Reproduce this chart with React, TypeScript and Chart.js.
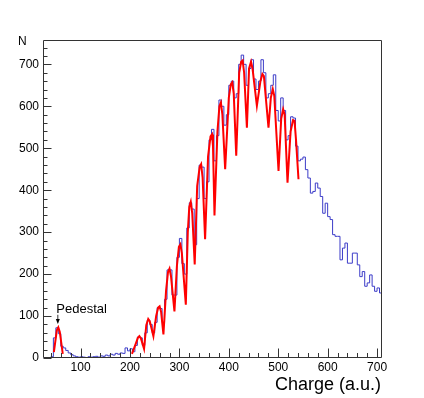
import React, { useEffect, useRef } from "react";
import { Chart, registerables } from "chart.js";

Chart.register(...registerables);

// Histogram: bins of width 5 starting at 25
const BIN_START = 25;
const BIN_WIDTH = 5;
const histCounts = [
  0, 0, 0, 3, 48, 72, 58, 28, 24, 18,
  12, 8, 5, 3, 2, 3, 2, 1, 3, 2,
  3, 4, 2, 5, 4, 7, 5, 9, 7, 11,
  9, 12, 11, 24, 17,
  22, 15, 30, 50, 48, 30, 60, 90, 80, 60,
  85, 120, 118, 85, 140, 210, 210, 150, 150, 240,
  285, 225, 200, 310, 370, 355, 270, 380, 460, 455,
  380, 420, 520, 545, 470, 530, 615, 600, 555, 580,
  650, 660, 620, 630, 700, 722, 700, 650, 690, 711,
  665, 640, 660, 711, 680, 620, 630, 650, 675, 590,
  565, 620, 590, 520, 530, 575, 572, 505, 470,
  474, 479, 449, 429, 393, 397, 417, 405, 385, 345,
  369, 337, 330, 294, 290, 290, 234, 262, 274, 226,
  226, 250, 250, 222, 194, 206, 171, 179, 198, 171,
  159, 167, 155,
];

// Pedestal fit
const pedX = [46, 49, 52, 55, 58, 61, 64];
const pedY = [14, 40, 66, 73, 62, 36, 10];

// Multi-peak fit
const fitX = [
  204, 212, 216, 219, 222, 228.5,
  233, 237, 240, 247.4,
  253, 257, 260, 263, 267.7,
  273, 277, 280, 283, 290,
  295, 299, 302, 305, 313,
  317, 320, 323, 326, 331,
  336, 341, 344, 347, 352,
  358, 363, 366, 368, 371,
  377, 381, 384, 387, 392.6,
  400, 404, 407, 410, 415,
  421, 425, 428, 431, 436.6,
  441, 445, 448, 456.8,
  464, 468, 471, 480.3,
  485, 489, 492, 500.6,
  506, 510, 513, 518.8,
  525, 530, 533, 536, 541,
];
const fitY = [
  10, 35, 48, 52, 47, 22,
  78, 93, 88, 52,
  100, 120, 123, 110, 56,
  160, 205, 213, 195, 111,
  220, 265, 271, 250, 127,
  300, 360, 372, 345, 223,
  410, 455, 462, 430, 283,
  480, 528, 533, 505, 340,
  540, 600, 609, 580, 450,
  620, 652, 657, 630, 482,
  680, 706, 709, 680, 549,
  690, 706, 690, 601,
  660, 677, 672, 549,
  620, 641, 625, 446,
  570, 593, 580, 418,
  540, 567, 565, 520, 426,
];

const X_MIN = 24;
const X_MAX = 710;
const Y_MIN = 0;
const Y_MAX = 758;
const xTickValues = [100, 200, 300, 400, 500, 600, 700];
const yTickValues = [0, 100, 200, 300, 400, 500, 600, 700];

const FONT = "'Liberation Sans', Arial, Helvetica, sans-serif";

const rootStylePlugin = {
  id: "rootStyle",
  afterDraw(chart: any) {
    const { ctx, chartArea } = chart;
    const xs = chart.scales.x;
    const ys = chart.scales.y;
    const L = Math.round(chartArea.left) + 0.5;
    const R = Math.round(chartArea.right) - 0.5;
    const T = Math.round(chartArea.top) + 0.5;
    const B = Math.round(chartArea.bottom) - 0.5;
    ctx.save();
    ctx.strokeStyle = "#333";
    ctx.lineWidth = 1;
    ctx.beginPath();
    ctx.rect(L, T, R - L, B - T);
    ctx.stroke();

    // x ticks (inside, pointing up)
    ctx.beginPath();
    for (let v = 40; v <= X_MAX; v += 20) {
      const px = Math.round(xs.getPixelForValue(v)) + 0.5;
      const len = v % 100 === 0 ? 9 : 4.5;
      ctx.moveTo(px, B);
      ctx.lineTo(px, B - len);
    }
    // y ticks (inside, pointing right)
    for (let v = 0; v <= Y_MAX; v += 20) {
      const py = Math.round(ys.getPixelForValue(v)) + 0.5;
      const len = v % 100 === 0 ? 8 : 4;
      ctx.moveTo(L, py);
      ctx.lineTo(L + len, py);
    }
    ctx.stroke();

    // Texts
    ctx.fillStyle = "#000";
    ctx.textBaseline = "alphabetic";
    ctx.font = `12px ${FONT}`;
    ctx.textAlign = "left";
    ctx.fillText("N", 18, 45);

    ctx.font = `18px ${FONT}`;
    ctx.textAlign = "right";
    ctx.fillText("Charge (a.u.)", 381, 390);

    // Pedestal annotation
    const ax = xs.getPixelForValue(54);
    ctx.font = `13px ${FONT}`;
    ctx.textAlign = "left";
    ctx.fillText("Pedestal", ax - 1.5, 312.5);
    const yStart = ys.getPixelForValue(103);
    const yTip = ys.getPixelForValue(81);
    ctx.beginPath();
    ctx.moveTo(ax, yStart);
    ctx.lineTo(ax, yTip - 4);
    ctx.stroke();
    ctx.beginPath();
    ctx.moveTo(ax - 2, yTip - 5);
    ctx.lineTo(ax + 2, yTip - 5);
    ctx.lineTo(ax, yTip);
    ctx.closePath();
    ctx.fill();
    ctx.restore();
  },
};

export default function App() {
  const canvasRef = useRef<HTMLCanvasElement | null>(null);

  useEffect(() => {
    const canvas = canvasRef.current;
    if (!canvas) return;

    const histData = histCounts.map((c, i) => ({ x: BIN_START + i * BIN_WIDTH, y: c }));
    histData.push({
      x: BIN_START + histCounts.length * BIN_WIDTH,
      y: histCounts[histCounts.length - 1],
    });
    const pedData = pedX.map((x, i) => ({ x, y: pedY[i] }));
    const fitData = fitX.map((x, i) => ({ x, y: fitY[i] }));

    const chart = new Chart(canvas, {
      type: "line",
      data: {
        datasets: [
          {
            data: fitData,
            borderColor: "rgb(255,0,0)",
            borderWidth: 2,
            pointRadius: 0,
            tension: 0,
            order: 0,
          },
          {
            data: pedData,
            borderColor: "rgb(255,0,0)",
            borderWidth: 2,
            pointRadius: 0,
            tension: 0,
            order: 0,
          },
          {
            data: histData,
            borderColor: "rgb(60,60,200)",
            borderWidth: 1,
            pointRadius: 0,
            stepped: "before",
            order: 1,
          },
        ],
      },
      options: {
        animation: false,
        responsive: false,
        devicePixelRatio: 1,
        layout: { padding: { left: 0, top: 40, right: 42, bottom: 0 } },
        plugins: {
          legend: { display: false },
          tooltip: { enabled: false },
        },
        scales: {
          x: {
            type: "linear",
            min: X_MIN,
            max: X_MAX,
            grid: { display: false, drawTicks: false },
            border: { display: false },
            afterBuildTicks: (scale: any) => {
              scale.ticks = xTickValues.map((v) => ({ value: v }));
            },
            afterFit: (scale: any) => {
              scale.height = 40;
            },
            ticks: {
              padding: 2,
              maxRotation: 0,
              autoSkip: false,
              color: "#000",
              font: { family: FONT, size: 12 },
            },
          },
          y: {
            type: "linear",
            min: Y_MIN,
            max: Y_MAX,
            grid: { display: false, drawTicks: false },
            border: { display: false },
            afterBuildTicks: (scale: any) => {
              scale.ticks = yTickValues.map((v) => ({ value: v }));
            },
            afterFit: (scale: any) => {
              scale.width = 43;
            },
            ticks: {
              padding: 4,
              autoSkip: false,
              color: "#000",
              font: { family: FONT, size: 12 },
            },
          },
        },
      },
      plugins: [rootStylePlugin],
    });

    return () => {
      chart.destroy();
    };
  }, []);

  return (
    <div style={{ position: "absolute", left: 0, top: 0, width: 424, height: 398, background: "#fff" }}>
      <canvas ref={canvasRef} width={424} height={398} style={{ display: "block" }} />
    </div>
  );
}
